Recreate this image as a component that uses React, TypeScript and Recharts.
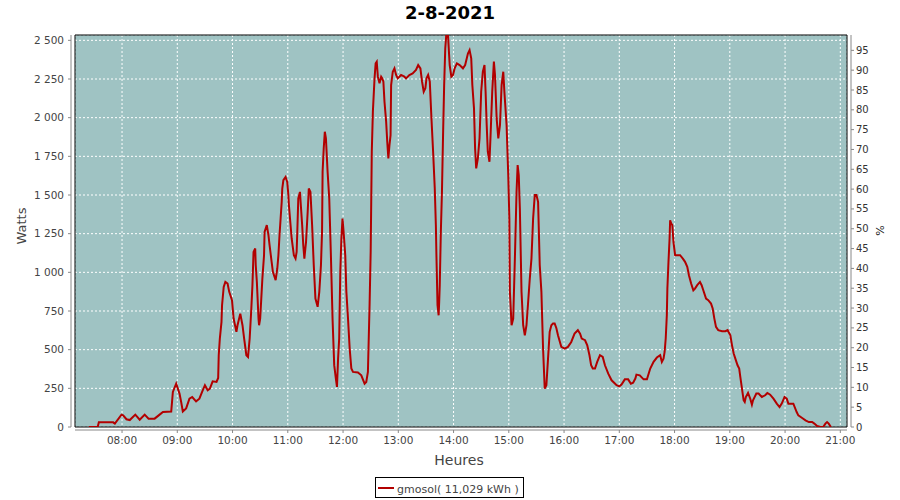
import {
  CartesianGrid,
  Line,
  LineChart,
  ReferenceArea,
  XAxis,
  YAxis,
} from "recharts";

const title = "2-8-2021";
const seriesName = "gmosol( 11,029 kWh )";

// time of day in decimal hours
const hours = [
  7.4, 7.56, 7.58, 7.84, 7.87, 7.99, 8.02, 8.08, 8.14, 8.24, 8.32, 8.41, 8.48,
  8.59, 8.68, 8.74, 8.89, 8.92, 8.98, 9.04, 9.07, 9.1, 9.16, 9.22, 9.27, 9.34,
  9.4, 9.46, 9.5, 9.55, 9.59, 9.64, 9.71, 9.74, 9.75, 9.77, 9.8, 9.81, 9.84,
  9.87, 9.91, 9.94, 9.99, 10.02, 10.07, 10.09, 10.14, 10.18, 10.21, 10.25,
  10.28, 10.31, 10.34, 10.36, 10.38, 10.41, 10.42, 10.44, 10.47, 10.48, 10.5,
  10.52, 10.54, 10.57, 10.58, 10.62, 10.65, 10.67, 10.7, 10.73, 10.78, 10.81,
  10.83, 10.85, 10.87, 10.89, 10.9, 10.92, 10.96, 10.99, 11.01, 11.02, 11.04,
  11.07, 11.11, 11.14, 11.16, 11.17, 11.19, 11.22, 11.24, 11.26, 11.28, 11.3,
  11.33, 11.36, 11.38, 11.41, 11.44, 11.47, 11.5, 11.54, 11.57, 11.6, 11.62,
  11.63, 11.65, 11.67, 11.69, 11.72, 11.75, 11.78, 11.81, 11.84, 11.87, 11.89,
  11.91, 11.93, 11.95, 11.97, 11.99, 12.01, 12.04, 12.06, 12.09, 12.12, 12.15,
  12.18, 12.27, 12.33, 12.39, 12.42, 12.45, 12.48, 12.5, 12.52, 12.54, 12.57,
  12.59, 12.61, 12.63, 12.66, 12.69, 12.71, 12.73, 12.75, 12.78, 12.8, 12.82,
  12.84, 12.86, 12.87, 12.9, 12.93, 12.96, 12.99, 13.05, 13.11, 13.14, 13.2,
  13.26, 13.32, 13.36, 13.4, 13.43, 13.46, 13.49, 13.51, 13.54, 13.57, 13.6,
  13.63, 13.66, 13.68, 13.69, 13.71, 13.73, 13.74, 13.75, 13.77, 13.79, 13.81,
  13.83, 13.85, 13.87, 13.9, 13.93, 13.96, 13.99, 14.02, 14.06, 14.11, 14.17,
  14.21, 14.26, 14.29, 14.32, 14.34, 14.37, 14.39, 14.41, 14.44, 14.47, 14.5,
  14.53, 14.56, 14.58, 14.6, 14.62, 14.65, 14.67, 14.7, 14.73, 14.75, 14.78,
  14.81, 14.84, 14.87, 14.9, 14.92, 14.96, 14.99, 15.01, 15.02, 15.05, 15.08,
  15.11, 15.14, 15.16, 15.18, 15.2, 15.23, 15.26, 15.29, 15.32, 15.35, 15.38,
  15.41, 15.44, 15.47, 15.5, 15.53, 15.56, 15.59, 15.62, 15.65, 15.68, 15.71,
  15.74, 15.77, 15.8, 15.83, 15.86, 15.89, 15.95, 16.01, 16.07, 16.13, 16.19,
  16.25, 16.29, 16.32, 16.38, 16.42, 16.46, 16.49, 16.52, 16.56, 16.6, 16.65,
  16.7, 16.74, 16.8, 16.86, 16.92, 16.95, 17.0, 17.04, 17.1, 17.16, 17.21,
  17.25, 17.29, 17.31, 17.37, 17.44, 17.5, 17.56, 17.62, 17.68, 17.74, 17.77,
  17.8, 17.82, 17.84, 17.86, 17.87, 17.89, 17.91, 17.92, 17.94, 17.96, 17.98,
  18.01, 18.1, 18.15, 18.19, 18.23, 18.26, 18.3, 18.34, 18.37, 18.41, 18.46,
  18.49, 18.52, 18.57, 18.61, 18.66, 18.69, 18.72, 18.75, 18.79, 18.86, 18.92,
  18.96, 19.01, 19.04, 19.07, 19.1, 19.14, 19.17, 19.19, 19.22, 19.25, 19.27,
  19.29, 19.33, 19.37, 19.4, 19.42, 19.48, 19.52, 19.58, 19.64, 19.68, 19.73,
  19.79, 19.85, 19.9, 19.94, 19.99, 20.03, 20.06, 20.15, 20.21, 20.24, 20.31,
  20.37, 20.43, 20.49, 20.53, 20.58, 20.64, 20.69, 20.73, 20.76, 20.79, 20.83,
];

const watts = [
  0, 0, 30, 30, 22, 80, 75, 50, 45, 80, 47, 80, 54,
  54, 80, 97, 100, 227, 280, 216, 162, 100, 120, 183, 194, 166,
  183, 237, 270, 237, 248, 295, 291, 317, 464, 572, 680, 787, 906,
  938, 928, 874, 820, 700, 615, 658, 733, 658, 572, 464,
  453, 572, 766, 917, 1132, 1154, 1046, 938, 700, 658, 700,
  830, 960, 1110, 1262, 1305, 1240, 1176, 1089, 1003, 949, 1025,
  1110, 1240, 1348, 1456, 1542, 1596, 1617, 1585, 1500, 1435, 1348,
  1219, 1110, 1089, 1132, 1240, 1478, 1520, 1413, 1305, 1176, 1089,
  1197, 1392, 1542, 1520, 1305, 1046, 830, 777, 874, 1046, 1262,
  1652, 1801, 1909, 1866, 1652, 1478, 1110, 700, 400, 313, 259,
  442, 572, 1003, 1219, 1348, 1262, 1110, 874, 700, 507, 378,
  356, 352, 334, 280, 291, 356, 787, 1132, 1780, 2039, 2254,
  2351, 2362, 2265, 2222, 2265, 2254, 2233, 2103, 1974, 1844, 1736,
  1822, 1887, 2211, 2297, 2319, 2276, 2254, 2276, 2265, 2254, 2276,
  2286, 2308, 2340, 2319, 2233, 2168, 2190, 2254, 2276, 2233, 1995,
  1780, 1542, 1305, 1110, 787, 722, 808, 915, 1262, 1520, 1887,
  2211, 2448, 2545, 2530, 2340, 2265, 2276, 2319, 2351, 2340, 2319,
  2340, 2415, 2437, 2384, 2211, 2060, 1801, 1672, 1736, 1866, 2168,
  2297, 2340, 2168, 1952, 1780, 1715, 1887, 2168, 2362, 2276, 1995,
  1866, 1952, 2211, 2297, 2168, 1952, 1628, 1348, 874, 658, 700,
  1089, 1520, 1693, 1628, 1413, 874, 658, 593, 658, 808, 960,
  1089, 1348, 1500, 1500, 1456, 1046, 874, 507, 248, 270, 442,
  615, 658, 669, 669, 640, 593, 518, 507, 518, 550, 604,
  626, 604, 572, 561, 528, 464, 399, 378, 378, 421, 464,
  453, 399, 345, 302, 281, 270, 263, 274, 308, 308, 280,
  286, 313, 339, 334, 308, 308, 378, 421, 449, 464, 421,
  442, 485, 572, 723, 895, 1068, 1219, 1337, 1316, 1305, 1197,
  1111, 1111, 1089, 1068, 1035, 981, 928, 884, 895, 917, 938,
  917, 884, 830, 820, 798, 766, 701, 647, 626, 619, 619,
  626, 593, 528, 475, 442, 399, 378, 324, 248, 173, 162,
  194, 220, 183, 145, 173, 216, 216, 194, 205, 220, 209,
  183, 151, 129, 151, 194, 183, 151, 151, 97, 75, 58,
  43, 32, 32, 22, 6, 0, 0, 22, 32, 22, 0,
];

const hourTicks = [8, 9, 10, 11, 12, 13, 14, 15, 16, 17, 18, 19, 20, 21];
const wattTicks = [0, 250, 500, 750, 1000, 1250, 1500, 1750, 2000, 2250, 2500];
const pctTicks = [
  0, 5, 10, 15, 20, 25, 30, 35, 40, 45, 50, 55, 60, 65, 70, 75, 80, 85, 90, 95,
];

const X_MIN = 7.1486;
const X_MAX = 21.121;
const W_MAX = 2534.5;
const PCT_MAX = 98.87;

const data = hours.map((h, i) => ({ h, w: watts[i] }));

const font = "DejaVu Sans";
const red = "#b20000";

const fmtWatts = (v: number) =>
  String(v).replace(/\B(?=(\d{3})+(?!\d))/g, " ");
const fmtHour = (v: number) => `${String(v).padStart(2, "0")}:00`;

export default function App() {
  return (
    <div
      style={{
        position: "absolute",
        left: 0,
        top: 0,
        width: 900,
        height: 500,
        background: "#fff",
        fontFamily: font,
      }}
    >
      <LineChart
        width={900}
        height={500}
        data={data}
        margin={{ top: 35, right: 13, bottom: 43, left: 15 }}
      >
        <CartesianGrid
          yAxisId="left"
          stroke="#ffffff"
          strokeDasharray="2 2"
          fill="#9fc3c3"
          fillOpacity={1}
        />
        <XAxis
          dataKey="h"
          type="number"
          domain={[X_MIN, X_MAX]}
          ticks={hourTicks}
          allowDataOverflow
          height={30}
          tickFormatter={fmtHour}
          tick={{ fontSize: 10.5, fill: "#444", fontFamily: font }}
          tickSize={3}
          tickMargin={7}
          axisLine={{ stroke: "#888", transform: "translate(0,3)" }}
          tickLine={{ stroke: "#888", transform: "translate(0,3)" }}
        />
        <YAxis
          yAxisId="left"
          type="number"
          domain={[0, W_MAX]}
          ticks={wattTicks}
          allowDataOverflow
          width={60}
          tickFormatter={fmtWatts}
          tick={{ fontSize: 10.5, fill: "#444", fontFamily: font }}
          tickSize={3}
          tickMargin={8}
          axisLine={{ stroke: "#888", transform: "translate(-4,0)" }}
          tickLine={{ stroke: "#888", transform: "translate(-4,0)" }}
        />
        <YAxis
          yAxisId="right"
          orientation="right"
          type="number"
          domain={[0, PCT_MAX]}
          ticks={pctTicks}
          allowDataOverflow
          width={40}
          tick={{ fontSize: 10, fill: "#333", fontFamily: font }}
          tickSize={3}
          tickMargin={6}
          axisLine={{ stroke: "#888", transform: "translate(4,0)" }}
          tickLine={{ stroke: "#888", transform: "translate(4,0)" }}
        />
        <Line
          yAxisId="left"
          type="linear"
          dataKey="w"
          stroke={red}
          strokeWidth={2}
          dot={false}
          isAnimationActive={false}
        />
        <ReferenceArea
          yAxisId="left"
          x1={X_MIN}
          x2={X_MAX}
          y1={0}
          y2={W_MAX}
          fill="none"
          stroke="#000"
          strokeWidth={1}
        />
      </LineChart>
      <svg
        width={900}
        height={500}
        style={{ position: "absolute", left: 0, top: 0, pointerEvents: "none" }}
        fontFamily={font}
      >
        <text x={450} y={18.5} textAnchor="middle" fontSize={18} fontWeight="bold" fill="#000">
          {title}
        </text>
        <text transform="translate(26,226) rotate(-90)" textAnchor="middle" fontSize={13} fill="#444">
          Watts
        </text>
        <text x={459} y={465} textAnchor="middle" fontSize={14} fill="#444">
          Heures
        </text>
        <text transform="translate(884,230.5) rotate(-90)" textAnchor="middle" fontSize={11} fill="#222">
          %
        </text>
        <rect x={375.5} y={477.5} width={148} height={20} fill="#fff" stroke="#000" />
        <line x1={378} x2={394} y1={488} y2={488} stroke={red} strokeWidth={2} />
        <text x={397} y={492.5} fontSize={11} fill="#444">
          {seriesName}
        </text>
      </svg>
    </div>
  );
}
